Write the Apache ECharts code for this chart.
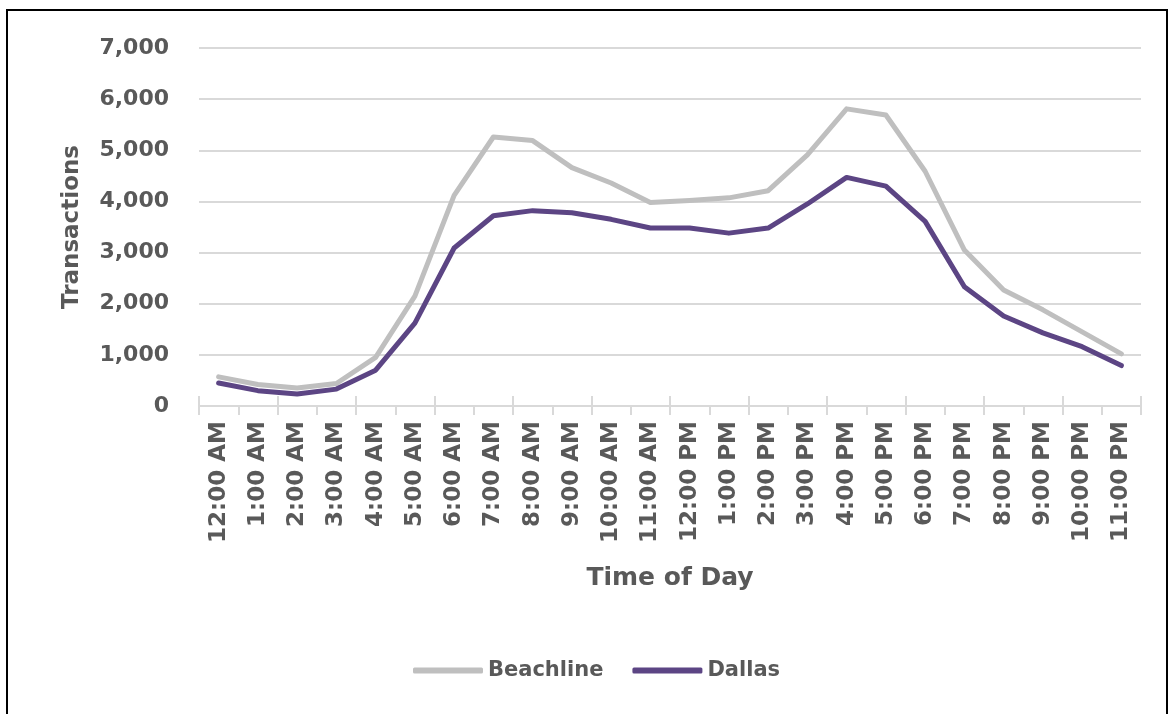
<!DOCTYPE html>
<html>
<head>
<meta charset="utf-8">
<script src="https://cdn.jsdelivr.net/npm/echarts@6/dist/echarts.min.js"></script>
<style>
  html, body { margin: 0; padding: 0; background: #fff; }
  #chart { width: 1172px; height: 714px; }
  .frame {
    position: absolute; left: 6px; top: 9px; width: 1162px; height: 720px;
    border: 2px solid #000; box-sizing: border-box; pointer-events: none;
  }
</style>
</head>
<body>
<div id="chart"></div>
<div class="frame"></div>
<script>
// hours of the day
const hours = ['12:00 AM', '1:00 AM', '2:00 AM', '3:00 AM', '4:00 AM', '5:00 AM', '6:00 AM',
  '7:00 AM', '8:00 AM', '9:00 AM', '10:00 AM', '11:00 AM', '12:00 PM', '1:00 PM', '2:00 PM',
  '3:00 PM', '4:00 PM', '5:00 PM', '6:00 PM', '7:00 PM', '8:00 PM', '9:00 PM', '10:00 PM', '11:00 PM']
const beachline = [570, 420, 350, 440, 950, 2150, 4120, 5260, 5190, 4660, 4360, 3980,
  4020, 4070, 4210, 4910, 5810, 5690, 4590, 3050, 2270, 1880, 1450, 1020]
const dallas = [450, 300, 235, 330, 700, 1620, 3090, 3720, 3820, 3780, 3650, 3480,
  3480, 3380, 3480, 3950, 4470, 4300, 3610, 2330, 1760, 1430, 1160, 790]

const textColor = '#595959'
const font = 'DejaVu Sans'
const gridColor = '#D9D9D9'

let myChart = echarts.init(document.getElementById('chart'))
myChart.setOption({
  backgroundColor: '#fff',
  animation: false,
  color: ['#BFBFBF', '#5C4584'],
  grid: { left: 199, right: 31, top: 48, bottom: 308 },
  legend: {
    left: 408,
    top: 655,
    itemWidth: 70,
    itemHeight: 6,
    itemGap: 29,
    icon: 'roundRect',
    selectedMode: false,
    textStyle: { color: textColor, fontFamily: font, fontWeight: 'bold', fontSize: 21 },
    data: ['Beachline', 'Dallas']
  },
  xAxis: [
    {
      type: 'category',
      data: hours,
      boundaryGap: true,
      name: 'Time of Day',
      nameLocation: 'middle',
      nameGap: 160,
      nameTextStyle: { color: textColor, fontFamily: font, fontWeight: 'bold', fontSize: 25 },
      axisLine: { lineStyle: { color: gridColor, width: 2 } },
      axisTick: { show: true, length: 9, lineStyle: { color: gridColor, width: 2 } },
      axisLabel: {
        rotate: 90, margin: 15, interval: 0,
        color: textColor, fontFamily: font, fontWeight: 'bold', fontSize: 23
      }
    },
    {
      // inside ticks so they cross the axis line
      type: 'category',
      data: hours,
      position: 'bottom',
      boundaryGap: true,
      axisLine: { show: false },
      axisTick: { show: true, inside: true, length: 10, lineStyle: { color: gridColor, width: 2 } },
      axisLabel: { show: false }
    }
  ],
  yAxis: {
    type: 'value',
    min: 0,
    max: 7000,
    interval: 1000,
    name: 'Transactions',
    nameLocation: 'middle',
    nameGap: 115,
    nameTextStyle: { color: textColor, fontFamily: font, fontWeight: 'bold', fontSize: 23 },
    axisLine: { show: false },
    axisTick: { show: false },
    axisLabel: {
      margin: 30,
      color: textColor, fontFamily: font, fontWeight: 'bold', fontSize: 22,
      formatter: v => v.toLocaleString('en-US')
    },
    splitLine: { lineStyle: { color: gridColor, width: 2 } }
  },
  series: [
    {
      name: 'Beachline',
      type: 'line',
      data: beachline,
      showSymbol: false,
      symbol: 'none',
      lineStyle: { width: 5, cap: 'round', join: 'round' }
    },
    {
      name: 'Dallas',
      type: 'line',
      data: dallas,
      showSymbol: false,
      symbol: 'none',
      lineStyle: { width: 5, cap: 'round', join: 'round' }
    }
  ]
})
</script>
</body>
</html>
